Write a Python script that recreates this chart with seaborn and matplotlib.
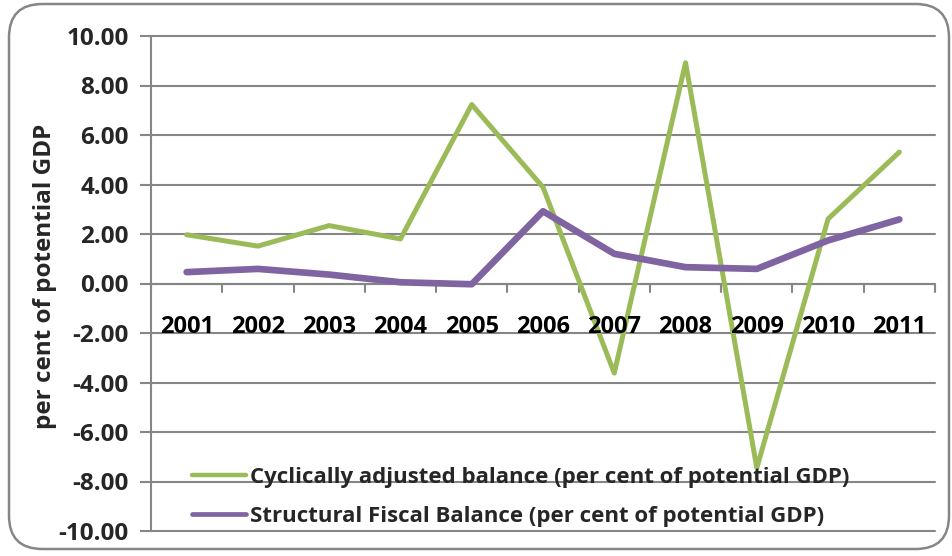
import matplotlib
matplotlib.use("Agg")
import matplotlib.pyplot as plt
from matplotlib.patches import FancyBboxPatch
import numpy as np
import pandas as pd
import seaborn as sns

years = ["2001", "2002", "2003", "2004", "2005", "2006",
         "2007", "2008", "2009", "2010", "2011"]
cyclically_adjusted = [1.97, 1.51, 2.34, 1.80, 7.23, 3.89,
                       -3.62, 8.92, -7.45, 2.61, 5.31]
structural = [0.46, 0.59, 0.36, 0.05, -0.03, 2.92,
              1.20, 0.66, 0.59, 1.74, 2.59]
y_ticks = [-10, -8, -6, -4, -2, 0, 2, 4, 6, 8, 10]

label_cab = "Cyclically adjusted balance (per cent of potential GDP)"
label_sfb = "Structural Fiscal Balance (per cent of potential GDP)"

df = pd.DataFrame({
    "pos": list(range(len(years))) * 2,
    "value": cyclically_adjusted + structural,
    "series": [label_cab] * len(years) + [label_sfb] * len(years),
})

sns.set_theme(style="white")
plt.rcParams["font.family"] = ["Open Sans", "DejaVu Sans"]
plt.rcParams["font.weight"] = "bold"

fig = plt.figure(figsize=(9.53, 5.56), dpi=100)
ax = fig.add_axes([151 / 953, 25 / 556, (935 - 151) / 953, (531 - 36) / 556])

# rounded frame around the whole chart
frame = FancyBboxPatch((9 / 953, 7 / 556), 940 / 953, 545 / 556,
                       boxstyle="round,pad=0,rounding_size=0.035",
                       transform=fig.transFigure, facecolor="none",
                       edgecolor="#868686", linewidth=1.8, zorder=-1,
                       mutation_aspect=953 / 556)
fig.patches.append(frame)

grid_color = "#868686"
ax.set_ylim(-10, 10)
ax.set_xlim(-0.5, len(years) - 0.5)
ax.set_yticks(y_ticks)
ax.set_yticklabels([f"{v:.2f}" for v in y_ticks])
for v in y_ticks:
    ax.axhline(v, color=grid_color, linewidth=1.5, zorder=0, clip_on=False)

sns.lineplot(data=df, x="pos", y="value", hue="series",
             palette=["#9BBB59", "#8064A2"], ax=ax, legend=False,
             zorder=3)
lines = ax.get_lines()[-2:]
lines[0].set_linewidth(3.6)
lines[1].set_linewidth(4.8)
for ln in lines:
    ln.set_solid_capstyle("round")
    ln.set_solid_joinstyle("round")

# category axis through zero
for s in ["top", "right", "bottom"]:
    ax.spines[s].set_visible(False)
ax.spines["left"].set_color(grid_color)
ax.spines["left"].set_linewidth(1.5)
ax.plot([-0.5, len(years) - 0.5], [0, 0], color=grid_color, lw=1.5, zorder=1)

ax.set_xticks([])
# year labels just under the zero line
for i, yr in enumerate(years):
    ax.text(i, -1.75, yr, ha="center", va="center", fontsize=17,
            fontweight="bold", color="black", zorder=4)
for xb in np.arange(-0.5, len(years), 1.0):
    ax.plot([xb, xb], [0, -0.33], color=grid_color, lw=1.5, zorder=1,
            clip_on=False)

ax.tick_params(axis="y", which="major", length=8, width=1.5, color=grid_color,
               direction="out", labelsize=17.5, pad=8, left=True)
for lbl in ax.get_yticklabels():
    lbl.set_fontweight("bold")
ax.set_xlabel("")
ax.set_ylabel("per cent of potential GDP", fontsize=17.5, fontweight="bold")
ax.yaxis.set_label_coords(-0.12, 0.515)

handles = [plt.Line2D([], [], color="#9BBB59", lw=3.2),
           plt.Line2D([], [], color="#8064A2", lw=3.4)]
ax.legend(handles, [label_cab, label_sfb], loc="lower left",
          bbox_to_anchor=(192 / 953, 29 / 556), bbox_transform=fig.transFigure,
          frameon=False, handlelength=2.45, handletextpad=0.15,
          labelspacing=0.82, borderpad=0, borderaxespad=0,
          prop={"weight": "bold", "size": 16})

fig.savefig("out.png", dpi=100)
